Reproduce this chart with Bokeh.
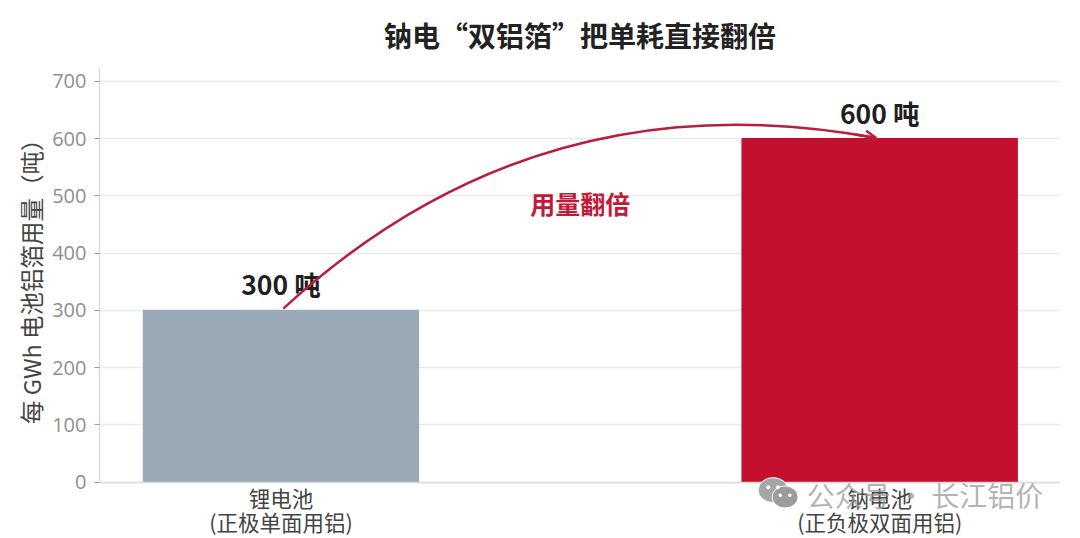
from bokeh.plotting import figure
from bokeh.models import ColumnDataSource, FixedTicker, Range1d, Arrow, OpenHead, LinearAxis
from bokeh.core.properties import value
from bokeh.embed import file_html
from bokeh.resources import INLINE

FONT = "Noto Sans CJK SC"

# data
categories_line1 = ["锂电池", "钠电池"]
categories_line2 = ["(正极单面用铝)", "(正负极双面用铝)"]
positions = [0, 1]
usage = [300, 600]
value_labels = ["300 吨", "600 吨"]
bar_colors = ["#9aa9b6", "#c4102e"]
y_ticks = [0, 100, 200, 300, 400, 500, 600, 700]
title_text = "钠电“双铝箔”把单耗直接翻倍"
y_title = "每 GWh 电池铝箔用量（吨）"
arrow_label = "用量翻倍"
watermark = "公众号 · 长江铝价"
RED = "#b81f3c"

p = figure(width=1076, height=536, output_backend="svg", toolbar_location=None,
           x_axis_location=None,
           x_range=Range1d(-0.303, 1.302), y_range=Range1d(-95, 724),
           min_border_left=99, min_border_right=16, min_border_top=66, min_border_bottom=0,
           background_fill_color="white", border_fill_color="white")
p.outline_line_color = None

p.title.text = title_text
p.title.text_font = FONT
p.title.text_font_size = "28px"
p.title.text_font_style = "bold"
p.title.text_color = "#222222"
p.title.align = "center"
p.title.offset = 0
p.title.standoff = 25

p.xgrid.visible = False
p.ygrid.ticker = FixedTicker(ticks=y_ticks)
p.ygrid.grid_line_color = "#e7e9eb"
p.ygrid.grid_line_width = 1.5

p.yaxis.ticker = FixedTicker(ticks=y_ticks)
p.yaxis.bounds = (0, 724)
# leading no-break spaces lift the title to the centre of the 0-700 span
p.yaxis.axis_label = "\u00a0" * 10 + y_title
p.yaxis.axis_label_text_font = FONT
p.yaxis.axis_label_text_font_size = "23.5px"
p.yaxis.axis_label_text_font_style = "normal"
p.yaxis.axis_label_text_color = "#444444"
p.yaxis.axis_label_standoff = 1
p.yaxis.major_label_text_font = "Open Sans"
p.yaxis.major_label_text_font_size = "20px"
p.yaxis.major_label_text_color = "#8f8f8f"
p.yaxis.major_label_standoff = 8
p.yaxis.axis_line_color = "#dcdcdc"
p.yaxis.axis_line_width = 1.5
p.yaxis.major_tick_line_color = "#999999"
p.yaxis.major_tick_in = 0
p.yaxis.major_tick_out = 5
p.yaxis.minor_tick_line_color = None

def x_axis(labels, standoff):
    ax = LinearAxis(fixed_location=0)
    ax.ticker = FixedTicker(ticks=positions)
    ax.major_label_overrides = dict(zip(positions, labels))
    ax.major_label_text_font = FONT
    ax.major_label_text_font_size = "21.5px"
    ax.major_label_text_color = "#444444"
    ax.major_label_standoff = standoff
    ax.major_tick_line_color = None
    ax.minor_tick_line_color = None
    p.add_layout(ax, "below")
    return ax

xa2 = x_axis(categories_line2, 18)
xa2.axis_line_color = None
xa = x_axis(categories_line1, -6)
xa.axis_line_color = "#dcdcdc"
xa.axis_line_width = 1.5

src = ColumnDataSource(dict(x=positions, top=usage, color=bar_colors, label=value_labels))
p.vbar(x="x", top="top", width=0.46, bottom=0, color="color", source=src)
p.text(x="x", y="top", text="label", source=src, text_align="center", text_baseline="bottom",
       y_offset=-7, text_font=value(FONT), text_font_size="26.5px", text_font_style="bold",
       text_color="#1f1f1f")

# curved arrow between the two bars
x0, y0 = positions[0] + 0.004, usage[0] + 3
x2, y2 = positions[1] - 0.006, usage[1] + 1
cx, cy = 0.427, 710
p.quadratic(x0=[x0], y0=[y0], x1=[x2], y1=[y2], cx=[cx], cy=[cy], line_color=RED, line_width=2.5)
t = 0.97
xs = (1 - t) ** 2 * x0 + 2 * t * (1 - t) * cx + t ** 2 * x2
ys = (1 - t) ** 2 * y0 + 2 * t * (1 - t) * cy + t ** 2 * y2
p.add_layout(Arrow(end=OpenHead(line_color=RED, line_width=2.5, size=11), x_start=xs, y_start=ys,
                   x_end=x2, y_end=y2, line_color=RED, line_width=2.5))

p.text(x=[0.5], y=[488], text=[arrow_label], text_align="center", text_baseline="middle",
       text_font=value(FONT), text_font_size="25px", text_font_style="bold", text_color="#c4183a")

# watermark: WeChat-style icon and text over the lower right corner
p.ellipse(x=[0.822, 0.842], y=[-14, -26], width=[30, 26], height=[25, 22], width_units="screen",
          height_units="screen", fill_color=["#a6a6a6", "#9c9c9c"], line_color="white", line_width=1,
          level="overlay")
p.circle(x=[0.814, 0.830, 0.834, 0.850], y=[-9, -9, -23, -23], radius=[2, 2, 1.8, 1.8],
         radius_units="screen", fill_color="white", line_color=None, level="overlay")
p.text(x=[0.878], y=[-22], text=[watermark], text_align="left", text_baseline="middle",
       text_font=value(FONT), text_font_size="28px", text_color="#9a9a9a", text_alpha=0.75, level="overlay")

open("out.html", "w").write(file_html(p, INLINE))
